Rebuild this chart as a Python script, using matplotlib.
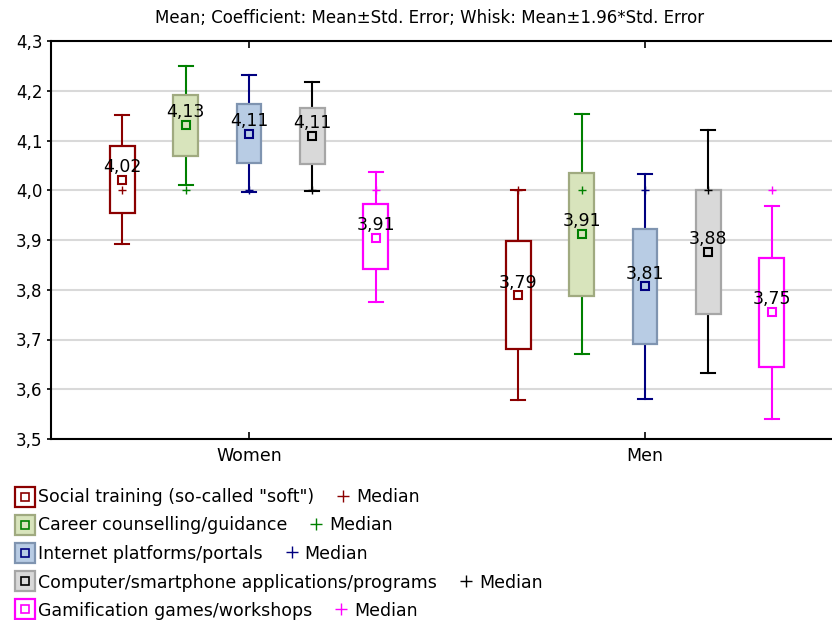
import matplotlib
matplotlib.use("Agg")
import matplotlib.pyplot as plt
from matplotlib.patches import Rectangle
from matplotlib.ticker import FuncFormatter, MultipleLocator

plt.rcParams['font.family'] = ['DejaVu Sans']

groups = ["Women", "Men"]
series = ["Social training (so-called \"soft\")",
          "Career counselling/guidance",
          "Internet platforms/portals",
          "Computer/smartphone applications/programs",
          "Gamification games/workshops"]

# per series: [Women, Men]
means = [[4.021, 3.789], [4.131, 3.912], [4.113, 3.807], [4.109, 3.876], [3.905, 3.756]]
box_low = [[3.955, 3.681], [4.069, 3.788], [4.054, 3.691], [4.052, 3.751], [3.841, 3.644]]
box_high = [[4.088, 3.898], [4.192, 4.035], [4.174, 3.922], [4.165, 4.001], [3.973, 3.864]]
whisk_low = [[3.891, 3.578], [4.011, 3.671], [3.997, 3.580], [3.998, 3.632], [3.776, 3.540]]
whisk_high = [[4.151, 4.001], [4.250, 4.153], [4.232, 4.033], [4.218, 4.122], [4.036, 3.969]]
medians = [[4.0, 4.0], [4.0, 4.0], [4.0, 4.0], [4.0, 4.0], [4.0, 4.0]]
mean_labels = [["4,02", "3,79"], ["4,13", "3,91"], ["4,11", "3,81"], ["4,11", "3,88"], ["3,91", "3,75"]]

line_colors = ["#8B0000", "#008000", "#000080", "#000000", "#FF00FF"]
face_colors = ["#FFFFFF", "#D8E4BC", "#B8CCE4", "#D9D9D9", "#FFFFFF"]
edge_colors = ["#8B0000", "#A0AA80", "#7F94B0", "#A6A6A6", "#FF00FF"]

title = "Mean; Coefficient: Mean\u00b1Std. Error; Whisk: Mean\u00b11.96*Std. Error"

W, H = 832, 620
fig = plt.figure(figsize=(W / 100, H / 100), dpi=100)
ax = fig.add_axes([51 / W, 1 - 439 / H, 792 / W, 398 / H])

offset = 0.16
bw = 0.063
capw = 0.036
for i in range(len(series)):
    for g in range(len(groups)):
        x = g + (i - 2) * offset
        lc = line_colors[i]
        ax.plot([x, x], [whisk_low[i][g], box_low[i][g]], color=lc, lw=1.5, zorder=2)
        ax.plot([x, x], [box_high[i][g], whisk_high[i][g]], color=lc, lw=1.5, zorder=2)
        ax.plot([x - capw / 2, x + capw / 2], [whisk_low[i][g]] * 2, color=lc, lw=1.5, zorder=2)
        ax.plot([x - capw / 2, x + capw / 2], [whisk_high[i][g]] * 2, color=lc, lw=1.5, zorder=2)
        ax.add_patch(Rectangle((x - bw / 2, box_low[i][g]), bw, box_high[i][g] - box_low[i][g],
                               facecolor=face_colors[i], edgecolor=edge_colors[i], lw=1.6, zorder=3))
        ax.plot([x], [medians[i][g]], marker='+', color=lc, ms=6, mew=1.0, zorder=4)
        ax.plot([x], [means[i][g]], marker='s', mfc='none', mec=lc, ms=6, mew=1.5, zorder=5)
        ax.annotate(mean_labels[i][g], (x, means[i][g]), xytext=(0, 5.5), textcoords='offset points',
                    ha='center', va='baseline', fontsize=12.5, color='black', zorder=6)

ax.set_xlim(-0.5, 1.5)
ax.set_ylim(3.5, 4.3)
ax.yaxis.set_major_locator(MultipleLocator(0.1))
ax.yaxis.set_major_formatter(FuncFormatter(lambda v, p: f"{v:.1f}".replace(".", ",")))
ax.set_xticks([0, 1])
ax.set_xticklabels(groups)
ax.grid(axis='y', color='#D9D9D9', lw=1.5, zorder=0)
ax.set_axisbelow(True)
ax.tick_params(axis='x', direction='in', length=5, width=1.2, top=True, labelsize=12.5, pad=6)
ax.tick_params(axis='y', direction='out', length=3, width=1.2, labelsize=12, pad=3)
for s in ax.spines.values():
    s.set_linewidth(1.5)
    s.set_color('black')

fig.text(430 / W, 1 - 18 / H, title, ha='center', va='center', fontsize=12)

# legend overlay
ov = fig.add_axes([0, 0, 1, 1], facecolor='none')
ov.set_xlim(0, W)
ov.set_ylim(H, 0)
ov.axis('off')
renderer = fig.canvas.get_renderer()
row_base = [502.5, 530.5, 559, 587.5, 615.5]
for i in range(len(series)):
    y = row_base[i]
    yc = y - 5.5 - 0.3 * i
    ov.add_patch(Rectangle((14.5, yc - 10), 20, 20, facecolor=face_colors[i], edgecolor=edge_colors[i], lw=1.6))
    ov.plot([24.5], [yc], marker='s', mfc='none', mec=line_colors[i], ms=6, mew=1.2)
    t = ov.text(38, y, series[i], ha='left', va='baseline', fontsize=12.5)
    bb = t.get_window_extent(renderer=renderer)
    xend = bb.x1
    ov.plot([xend + 29], [y - 7], marker='+', color=line_colors[i], ms=9, mew=1.0)
    ov.text(xend + 42, y, "Median", ha='left', va='baseline', fontsize=12.5)

fig.savefig("out.png", dpi=100)
